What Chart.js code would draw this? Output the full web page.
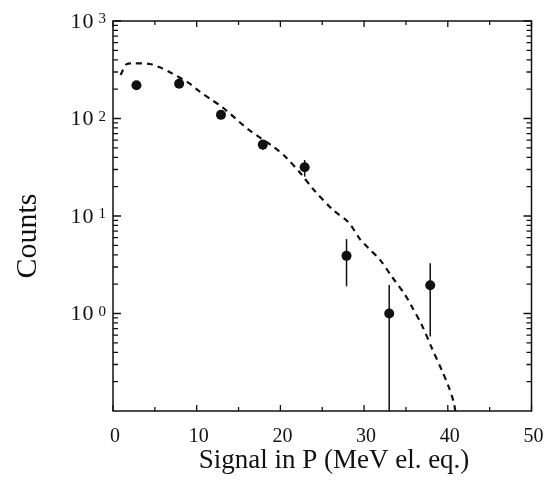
<!DOCTYPE html>
<html>
<head>
<meta charset="utf-8">
<script src="https://cdn.jsdelivr.net/npm/chart.js@4.4.0/dist/chart.umd.min.js"></script>
<style>
  html, body { margin: 0; padding: 0; background: #fff; }
  #wrap { width: 555px; height: 493px; }
</style>
</head>
<body>
<div id="wrap"><canvas id="c" width="555" height="493"></canvas></div>
<script>
// measured data points: signal (MeV el. eq.) vs counts
const pointX  = [2.8, 7.9, 12.9, 17.9, 22.9, 27.9, 33.0, 37.9];
const pointY  = [219, 227, 109, 54, 31.6, 3.9, 1.0, 1.95];
const errLow  = [205, 215, 104, 47.5, 25.3, 1.9, 0, 0.58];
const errHigh = [234, 262, 116, 60, 37.5, 5.8, 1.96, 3.27];

// dashed curve (simulation)
const curveX = [0.9, 1.6, 2.5, 4.4, 5.6, 6.8, 9.0, 10.4, 11.8, 13.0, 16.2, 19.2, 20.6, 22.4, 24.0,
                26.3, 28.1, 29.5, 30.5, 31.9, 33.3, 34.9, 35.6, 36.9, 38.1, 39.3, 40.1, 40.7, 40.9];
const curveY = [279, 360, 368, 362, 335, 298, 233, 188, 155, 132, 77, 51, 40.5, 27.4, 18.5,
                11.5, 8.7, 5.8, 4.7, 3.55, 2.4, 1.55, 1.22, 0.76, 0.44, 0.26, 0.178, 0.124, 0.1];

// axes
const xMajor = [0, 10, 20, 30, 40, 50];
const xMinor = [5, 15, 25, 35, 45];
const yExponents = [0, 1, 2, 3];
const yMinorMult = [2, 3, 4, 5, 6, 7, 8, 9];
const xTitle = 'Signal in P (MeV el. eq.)';
const yTitle = 'Counts';

const INK = '#111';
const SERIF = '"Liberation Serif", "DejaVu Serif", serif';

const points = pointX.map((x, i) => ({ x, y: pointY[i] }));
const curve = curveX.map((x, i) => ({ x, y: curveY[i] }));

// error bars under the markers
const errorBars = {
  id: 'errorBars',
  beforeDatasetsDraw(chart) {
    const { ctx, chartArea, scales } = chart;
    ctx.save();
    ctx.strokeStyle = INK;
    ctx.lineWidth = 1.5;
    pointX.forEach((x, i) => {
      const px = scales.x.getPixelForValue(x);
      const top = scales.y.getPixelForValue(errHigh[i]);
      const bot = errLow[i] > 0 ? Math.min(chartArea.bottom, scales.y.getPixelForValue(errLow[i])) : chartArea.bottom;
      ctx.beginPath();
      ctx.moveTo(px, top);
      ctx.lineTo(px, bot);
      ctx.stroke();
    });
    ctx.restore();
  }
};

// frame, inward ticks on all four sides, labels
const frame = {
  id: 'frame',
  afterDraw(chart) {
    const { ctx, chartArea: a, scales } = chart;
    const xs = scales.x, ys = scales.y;
    ctx.save();
    ctx.strokeStyle = INK;
    ctx.fillStyle = INK;
    ctx.lineWidth = 1.5;
    ctx.strokeRect(a.left, a.top, a.right - a.left, a.bottom - a.top);

    ctx.lineWidth = 1.3;
    const tickX = (v, len) => {
      const p = xs.getPixelForValue(v);
      ctx.beginPath();
      ctx.moveTo(p, a.bottom); ctx.lineTo(p, a.bottom - len);
      ctx.moveTo(p, a.top); ctx.lineTo(p, a.top + len);
      ctx.stroke();
    };
    const tickY = (v, len) => {
      const p = ys.getPixelForValue(v);
      ctx.beginPath();
      ctx.moveTo(a.left, p); ctx.lineTo(a.left + len, p);
      ctx.moveTo(a.right, p); ctx.lineTo(a.right - len, p);
      ctx.stroke();
    };
    xMajor.forEach(v => tickX(v, 6));
    xMinor.forEach(v => tickX(v, 4));
    yExponents.forEach(e => tickY(Math.pow(10, e), 8));
    [-1, 0, 1, 2].forEach(e => yMinorMult.forEach(m => tickY(m * Math.pow(10, e), 5)));

    // x tick labels
    ctx.font = '20px ' + SERIF;
    ctx.textAlign = 'center';
    ctx.textBaseline = 'middle';
    xMajor.forEach(v => {
      ctx.fillText(String(v), xs.getPixelForValue(v) + 2, a.bottom + 26);
    });

    // y tick labels: 10 with superscript exponent
    yExponents.forEach(e => {
      const p = ys.getPixelForValue(Math.pow(10, e));
      ctx.font = '15px ' + SERIF;
      ctx.textAlign = 'right';
      ctx.textBaseline = 'top';
      const expRight = a.left - 7;
      ctx.fillText(String(e), expRight, p - 9);
      const ew = ctx.measureText(String(e)).width;
      ctx.font = '22px ' + SERIF;
      ctx.textBaseline = 'middle';
      ctx.fillText('1', expRight - ew - 17, p + 1);
      ctx.fillText('0', expRight - ew - 5, p + 1);
    });

    // axis titles
    ctx.font = '27px ' + SERIF;
    ctx.textAlign = 'center';
    ctx.textBaseline = 'middle';
    ctx.fillText(xTitle, 334, a.bottom + 50);
    ctx.save();
    ctx.translate(28, 236);
    ctx.rotate(-Math.PI / 2);
    ctx.font = '30px ' + SERIF;
    ctx.fillText(yTitle, 0, 0);
    ctx.restore();
    ctx.restore();
  }
};

new Chart(document.getElementById('c'), {
  type: 'scatter',
  data: {
    datasets: [
      {
        label: 'data',
        data: points,
        pointRadius: 5,
        pointBackgroundColor: INK,
        pointBorderWidth: 0,
        showLine: false
      },
      {
        type: 'line',
        label: 'simulation',
        data: curve,
        borderColor: INK,
        borderWidth: 2.2,
        borderDash: [6, 5],
        pointRadius: 0,
        tension: 0.3,
        fill: false
      }
    ]
  },
  options: {
    responsive: false,
    animation: false,
    layout: { padding: { left: 113, top: 21, right: 23.5, bottom: 82 } },
    scales: {
      x: { type: 'linear', min: 0, max: 50, display: false },
      y: { type: 'logarithmic', min: 0.1, max: 1000, display: false }
    },
    plugins: {
      legend: { display: false },
      tooltip: { enabled: false }
    }
  },
  plugins: [errorBars, frame]
});
</script>
</body>
</html>
